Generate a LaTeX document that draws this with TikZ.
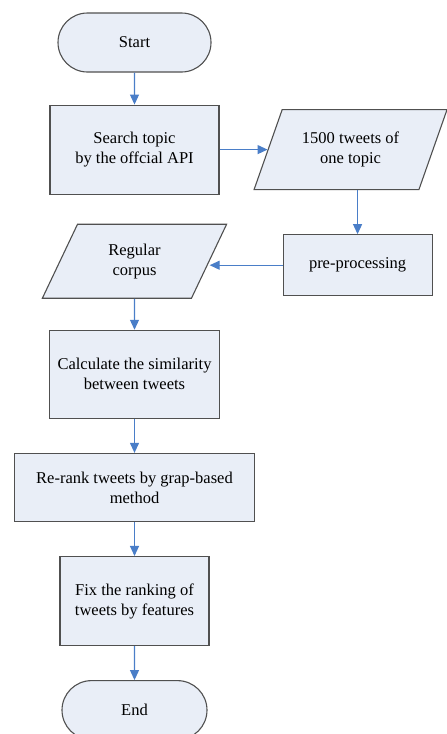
\documentclass[tikz,border=0pt]{standalone}
\usepackage{fontspec}
\setmainfont{Liberation Serif}
\usetikzlibrary{positioning,shapes.geometric,shapes.misc,arrows.meta}
\definecolor{boxfill}{HTML}{E9EEF7}
\definecolor{boxline}{HTML}{505050}
\definecolor{flowblue}{HTML}{4A7EC8}
\tikzset{
  % --- flowchart shapes ------------------------------------------------------
  base/.style={draw=boxline,fill=boxfill,line width=1.1pt,align=center,
               font=\fontsize{16.5}{20}\selectfont,inner sep=2pt},
  term/.style={base,rounded rectangle,minimum width=157pt,minimum height=59pt},
  proc/.style={base,rectangle,minimum height=89pt},
  data/.style={base,trapezium,trapezium stretches=true,
               trapezium left angle=#1,trapezium right angle=180-#1},
  % --- connectors ------------------------------------------------------------
  ar/.style={-{Triangle[length=10pt,width=9pt]},flowblue,line width=1.1pt},
}
\begin{document}
\begin{tikzpicture}[node distance=33pt]
  \useasboundingbox (0,0) rectangle (447pt,-734pt);

  \node[term] (start) at (134.5pt,-42.5pt) {Start};
  \node[proc,below=32pt of start,minimum width=169pt] (search)
       {Search topic\\by the offcial API};
  \node[data=62,right=48pt of search,minimum width=193pt,minimum height=80pt]
       (tweets) {1500 tweets of\\one topic};
  \node[proc,below=44pt of tweets,xshift=7pt,minimum width=149pt,
        minimum height=61pt] (prep) {pre-processing};
  \node[data=66,below=29pt of search,minimum width=186pt,minimum height=74pt]
       (corpus) {Regular\\corpus};
  \node[proc,below=31pt of corpus,minimum width=170pt,minimum height=88pt]
       (simil) {Calculate the similarity\\between tweets};
  \node[proc,below=34pt of simil,minimum width=240pt,minimum height=68pt]
       (rerank) {Re-rank tweets by grap-based\\method};
  \node[proc,below=34pt of rerank,minimum width=149pt] (fix)
       {Fix the ranking of\\tweets by features};
  \node[term,below=34pt of fix,minimum width=149pt] (end) {End};

  \draw[ar] (start) -- (search);
  \draw[ar] (search.east) -- (tweets.west);
  \draw[ar] (tweets.south -| prep.north) -- (prep.north);
  \draw[ar] (prep.west) -- (prep.west -| corpus.east);
  \draw[ar] (corpus) -- (simil);
  \draw[ar] (simil)  -- (rerank);
  \draw[ar] (rerank) -- (fix);
  \draw[ar] (fix)    -- (end);
\end{tikzpicture}
\end{document}
